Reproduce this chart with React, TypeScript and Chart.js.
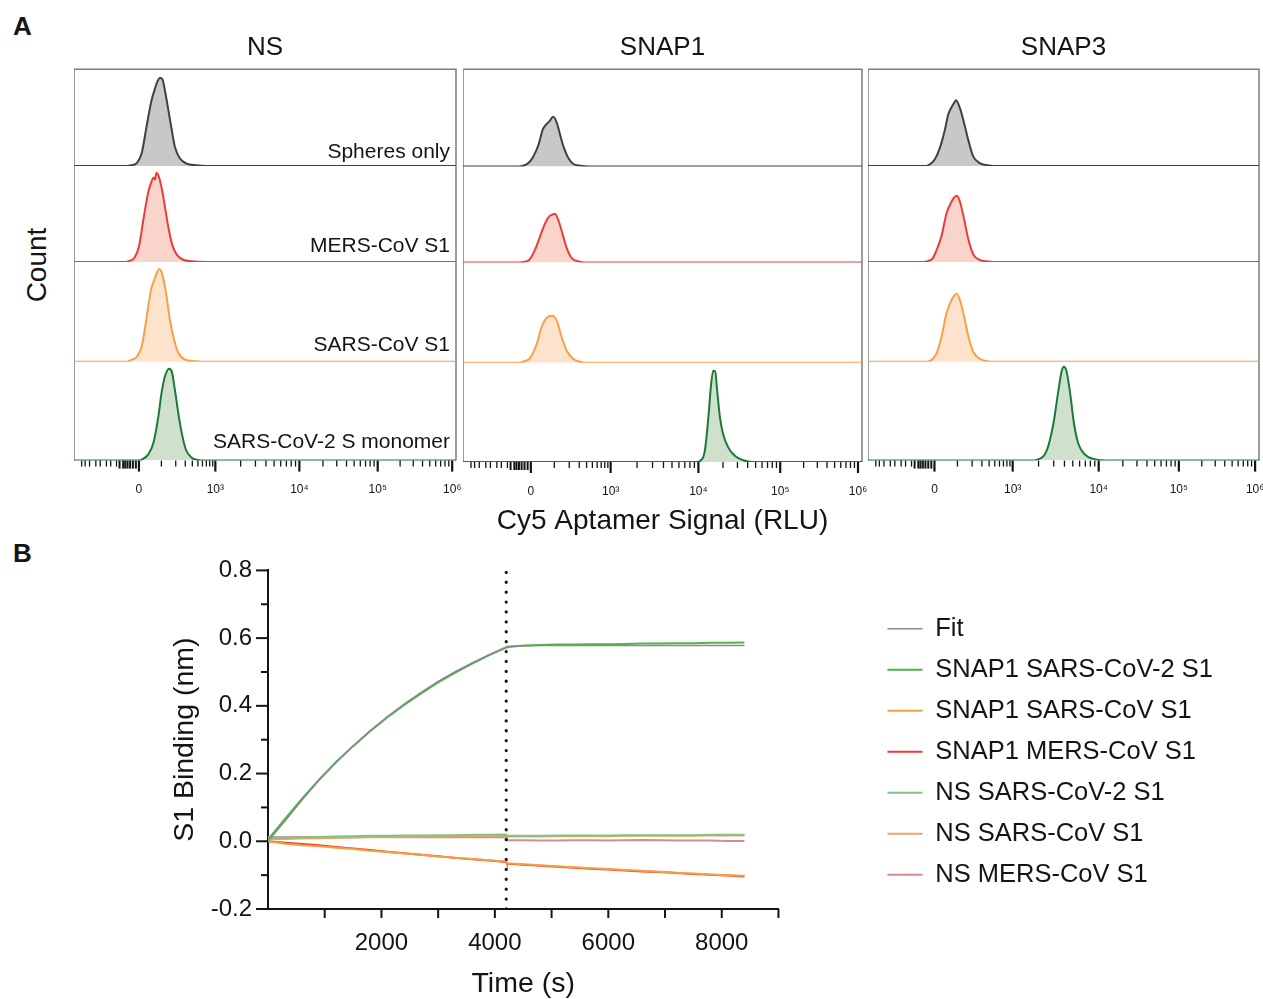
import React, { useEffect, useRef } from 'react';
import { Chart, registerables } from 'chart.js';

Chart.register(...registerables);

const FONT = "'Liberation Sans', Arial, Helvetica, sans-serif";
const INK = '#141414';

// ================= Panel A: flow cytometry histograms =================
const columnTitles = ['NS', 'SNAP1', 'SNAP3'];
const rowLabels = ['Spheres only', 'MERS-CoV S1', 'SARS-CoV S1', 'SARS-CoV-2 S monomer'];
const rowStroke = ['#404040', '#ec3b3a', '#f7a045', '#1b7a35'];
const rowFill = ['#c8c8c9', '#f9d4ca', '#fde3cc', '#cfe0cd'];
const rowWeights = [97, 96, 100, 99];
const xAxisTitleA = 'Cy5 Aptamer Signal (RLU)';
const countLabel = 'Count';

// [display channel (0-1000), count as % of row height]
const nsSpheres = [[0, 0], [140, 0], [150, 0.8], [164, 3], [177, 13], [190, 41], [203, 68], [212, 80], [218, 87], [225, 91], [231, 90], [238, 78], [247, 58], [256, 37], [264, 20], [277, 8], [295, 2.5], [320, 0.8], [345, 0], [1000, 0]];
const nsMers = [[0, 0], [135, 0], [145, 1], [158, 4], [170, 16], [182, 45], [194, 72], [203, 84], [208, 88], [212, 86], [216, 93], [222, 89], [230, 76], [239, 55], [248, 34], [257, 18], [270, 7], [288, 2], [315, 0.5], [340, 0], [1000, 0]];
const nsSars = [[0, 0], [140, 0], [147, 1.3], [164, 5], [177, 15], [188, 39], [197, 62], [203, 74], [212, 84], [223, 93], [229, 90], [241, 69], [251, 42], [262, 22], [273, 9], [291, 2], [315, 0.5], [335, 0], [1000, 0]];
const nsSars2 = [[0, 0], [170, 0], [177, 1], [194, 6], [208, 18], [221, 45], [229, 68], [238, 85], [249, 93], [256, 90], [264, 72], [273, 48], [282, 28], [293, 11], [308, 3], [325, 0.6], [340, 0], [1000, 0]];

const snap1Spheres = [[0, 0], [140, 0], [151, 0.7], [164, 3.4], [176, 10], [189, 22], [200, 38], [208, 43], [216, 46], [226, 51], [235, 45], [243, 33], [253, 19], [264, 8.6], [276, 2.7], [295, 0.8], [315, 0], [1000, 0]];
const snap1Mers = [[0, 0], [140, 0], [151, 0.7], [165, 2.5], [180, 13], [193, 27], [206, 41], [216, 48], [224, 50], [231, 50.5], [239, 44], [250, 29], [260, 15], [272, 5], [293, 1], [315, 0], [1000, 0]];
const snap1Sars = [[0, 0], [140, 0], [151, 1], [168, 5], [185, 19], [197, 36], [208, 44], [216, 46.5], [224, 47], [235, 42], [247, 26], [260, 12], [276, 4], [293, 1], [312, 0], [1000, 0]];
const snap1Sars2 = [[0, 0], [585, 0], [594, 1], [606, 11], [615, 45], [621, 75], [627, 92], [632, 91.5], [637, 72], [644, 45], [652, 28], [665, 14.5], [682, 6], [703, 1.7], [725, 0], [1000, 0]];

const snap3Spheres = [[0, 0], [143, 0], [154, 0.7], [171, 7], [184, 19], [197, 38], [205, 53], [214, 61], [220, 65], [225, 68], [235, 60], [246, 44], [257, 26], [269, 10], [286, 3], [305, 0.8], [322, 0], [1000, 0]];
const snap3Mers = [[0, 0], [143, 0], [154, 1], [166, 4], [176, 13], [188, 27], [201, 51], [214, 63], [220, 67], [227, 69], [235, 63], [246, 44], [257, 23], [269, 8], [286, 2], [305, 0.5], [322, 0], [1000, 0]];
const snap3Sars = [[0, 0], [145, 0], [159, 1], [176, 9], [188, 25], [201, 49], [214, 62], [227, 68], [235, 62], [246, 45], [257, 25], [269, 10], [286, 3], [305, 0.6], [322, 0], [1000, 0]];
const snap3Sars2 = [[0, 0], [420, 0], [431, 0.7], [457, 10], [474, 37], [487, 71], [495, 90], [501, 95], [508, 90], [517, 68], [527, 37], [538, 17], [555, 6], [577, 1.7], [600, 0.3], [615, 0], [1000, 0]];

const histograms = [
  [nsSpheres, nsMers, nsSars, nsSars2],
  [snap1Spheres, snap1Mers, snap1Sars, snap1Sars2],
  [snap3Spheres, snap3Mers, snap3Sars, snap3Sars2],
];

// biexponential axis
const majorTickValues = [0, 1e3, 1e4, 1e5, 1e6];
const majorTickLabels = ['0', '10³', '10⁴', '10⁵', '10⁶'];
const negativeMinorTicks = [-1000, -800, -600, -400, -300, -200, -150, -100, -80, -60, -50, -40, -30, -20, -10];
const linearMinorTicks = [100, 200, 300, 400, 500, 600, 700, 800, 900];
const decadeMultipliers = [2, 3, 4, 5, 6, 7, 8, 9];
const minorDecades = [1e3, 1e4, 1e5];
const decadeAnchors = [[3, 370], [4, 590], [5, 795], [6, 990]];

function biex(v: number): number {
  if (v >= 1000) {
    const l = Math.log10(v);
    for (let i = 0; i < decadeAnchors.length - 1; i++) {
      const [a, pa] = decadeAnchors[i];
      const [b, pb] = decadeAnchors[i + 1];
      if (l <= b) return pa + ((l - a) / (b - a)) * (pb - pa);
    }
    return decadeAnchors[decadeAnchors.length - 1][1];
  }
  if (v >= 0) return 170 + (200 * Math.asinh(v / 100)) / Math.asinh(10);
  return 170 - (150 * Math.asinh(-v / 50)) / Math.asinh(20);
}

const panelGeom = [
  { left: 74, right: 456 },
  { left: 463, right: 862 },
  { left: 868, right: 1259 },
];

function HistogramColumn({ col }: { col: number }) {
  const ref = useRef<HTMLCanvasElement>(null);
  const g = panelGeom[col];
  const withTitle = col === 1;
  const width = g.right - g.left + 6;
  const height = withTitle ? 506 : 465;
  useEffect(() => {
    const canvas = ref.current as HTMLCanvasElement;
    const rows = histograms[col];
    const datasets = rows.map((pts, i) => ({
      label: rowLabels[i],
      data: pts.map(([x, y]) => ({ x, y })),
      yAxisID: 'r' + i,
      borderColor: rowStroke[i],
      backgroundColor: rowFill[i],
      borderWidth: 2,
      fill: 'origin',
      pointRadius: 0,
      cubicInterpolationMode: 'monotone',
    }));
    const scales: any = {
      x: {
        type: 'linear',
        position: 'bottom',
        min: 0,
        max: 1000,
        grid: { display: false, drawTicks: true, tickLength: 22 },
        border: { display: false },
        afterBuildTicks: (s: any) => {
          s.ticks = majorTickValues.map((v) => ({ value: biex(v) }));
        },
        ticks: {
          autoSkip: false,
          maxRotation: 0,
          padding: 0,
          color: INK,
          font: { family: FONT, size: 12 },
          callback: (_v: any, i: number) => majorTickLabels[i],
        },
        title: withTitle
          ? { display: true, text: xAxisTitleA, color: INK, font: { family: FONT, size: 28 }, padding: { top: 6, bottom: 0 } }
          : { display: false },
      },
    };
    rows.forEach((_r, i) => {
      scales['r' + i] = {
        type: 'linear',
        position: 'right',
        stack: 'rows',
        stackWeight: rowWeights[i],
        min: 0,
        max: 100,
        display: true,
        grid: { display: false, drawTicks: false },
        border: { display: false },
        ticks: { display: false },
      };
    });
    const minorTicks = [
      ...negativeMinorTicks,
      ...linearMinorTicks,
      ...minorDecades.flatMap((d) => decadeMultipliers.map((m) => m * d)),
    ];
    const decor = {
      id: 'panelDecor' + col,
      beforeDatasetsDraw(chart: any) {
        const { ctx, chartArea: a } = chart;
        ctx.save();
        ctx.strokeStyle = '#7d7d7d';
        ctx.lineWidth = 1.5;
        ctx.beginPath();
        ctx.moveTo(a.left, a.bottom);
        ctx.lineTo(a.left, a.top);
        ctx.lineTo(a.right, a.top);
        ctx.lineTo(a.right, a.bottom);
        ctx.stroke();
        ctx.restore();
      },
      afterDraw(chart: any) {
        const { ctx, chartArea: a } = chart;
        const xs = chart.scales.x;
        ctx.save();
        ctx.strokeStyle = INK;
        minorTicks.forEach((v) => {
          const x = xs.getPixelForValue(biex(v));
          const near = Math.abs(v) < 100;
          ctx.lineWidth = near ? 2 : 1.3;
          ctx.beginPath();
          ctx.moveTo(x, a.bottom);
          ctx.lineTo(x, a.bottom + (near ? 8 : 6));
          ctx.stroke();
        });
        majorTickValues.forEach((v) => {
          const x = xs.getPixelForValue(biex(v));
          ctx.lineWidth = 2.2;
          ctx.beginPath();
          ctx.moveTo(x, a.bottom);
          ctx.lineTo(x, a.bottom + 11);
          ctx.stroke();
        });
        if (col === 0) {
          ctx.fillStyle = INK;
          ctx.font = `21px ${FONT}`;
          ctx.textAlign = 'right';
          ctx.textBaseline = 'alphabetic';
          rowLabels.forEach((t, i) => {
            const s = chart.scales['r' + i];
            ctx.fillText(t, a.right - 6, s.bottom - 8 - i * 1.5);
          });
        }
        ctx.restore();
      },
    };
    const chart = new Chart(canvas, {
      type: 'line',
      data: { datasets } as any,
      options: {
        responsive: false,
        animation: false,
        events: [],
        layout: { padding: { top: 0, right: 6, bottom: 0, left: 0 } },
        plugins: {
          legend: { display: false },
          tooltip: { enabled: false },
          title: {
            display: true,
            text: columnTitles[col],
            color: INK,
            font: { family: FONT, size: 26, weight: 'normal' },
            padding: { top: 0, bottom: 6 },
          },
        },
        scales,
      } as any,
      plugins: [decor],
    });
    return () => chart.destroy();
  }, [col]);
  return (
    <canvas
      ref={ref}
      width={width}
      height={height}
      style={{ position: 'absolute', left: g.left, top: 32, width, height }}
    />
  );
}

// ================= Panel B: binding kinetics =================
const timePoints = [0, 300, 600, 900, 1200, 1500, 1800, 2100, 2400, 2700, 3000, 3300, 3600, 3900, 4200, 4210, 4500, 4800, 5100, 5400, 5700, 6000, 6300, 6600, 6900, 7200, 7500, 7800, 8100, 8400];
const fitCurve = [0, 0.060, 0.122, 0.180, 0.233, 0.281, 0.326, 0.367, 0.405, 0.440, 0.472, 0.501, 0.527, 0.551, 0.574, 0.575, 0.577, 0.578, 0.578, 0.578, 0.578, 0.578, 0.578, 0.578, 0.578, 0.578, 0.578, 0.578, 0.578, 0.578];
const bindSnap1Cov2 = [0.005, 0.066, 0.126, 0.182, 0.234, 0.281, 0.325, 0.366, 0.403, 0.437, 0.469, 0.498, 0.525, 0.550, 0.572, 0.573, 0.578, 0.580, 0.581, 0.581, 0.582, 0.582, 0.583, 0.584, 0.584, 0.585, 0.585, 0.586, 0.586, 0.587];
const bindSnap1Cov = [0, -0.007, -0.012, -0.015, -0.019, -0.023, -0.028, -0.032, -0.036, -0.040, -0.045, -0.049, -0.052, -0.056, -0.060, -0.065, -0.068, -0.071, -0.074, -0.077, -0.080, -0.082, -0.085, -0.087, -0.090, -0.093, -0.095, -0.098, -0.100, -0.102];
const bindSnap1Mers = [0, -0.004, -0.008, -0.012, -0.017, -0.021, -0.026, -0.031, -0.035, -0.040, -0.044, -0.049, -0.053, -0.057, -0.061, -0.066, -0.069, -0.072, -0.075, -0.078, -0.081, -0.083, -0.086, -0.089, -0.091, -0.094, -0.097, -0.099, -0.101, -0.104];
const bindNsCov2 = [0.010, 0.011, 0.012, 0.013, 0.014, 0.015, 0.016, 0.016, 0.017, 0.017, 0.018, 0.018, 0.019, 0.019, 0.020, 0.016, 0.016, 0.016, 0.017, 0.017, 0.017, 0.017, 0.018, 0.018, 0.018, 0.018, 0.018, 0.019, 0.019, 0.019];
const bindNsCov = [0.006, 0.007, 0.008, 0.009, 0.010, 0.011, 0.012, 0.012, 0.013, 0.014, 0.014, 0.015, 0.015, 0.016, 0.016, 0.014, 0.014, 0.014, 0.015, 0.015, 0.015, 0.015, 0.016, 0.016, 0.016, 0.016, 0.016, 0.017, 0.017, 0.017];
const bindNsMers = [0.013, 0.012, 0.012, 0.012, 0.012, 0.012, 0.013, 0.013, 0.012, 0.012, 0.012, 0.012, 0.012, 0.012, 0.012, 0.003, 0.003, 0.002, 0.002, 0.003, 0.003, 0.002, 0.003, 0.004, 0.003, 0.002, 0.002, 0.002, 0.001, 0.001];

const bSeriesLabels = ['Fit', 'SNAP1 SARS-CoV-2 S1', 'SNAP1 SARS-CoV S1', 'SNAP1 MERS-CoV S1', 'NS SARS-CoV-2 S1', 'NS SARS-CoV S1', 'NS MERS-CoV S1'];
const bSeriesValues = [fitCurve, bindSnap1Cov2, bindSnap1Cov, bindSnap1Mers, bindNsCov2, bindNsCov, bindNsMers];
const bSeriesColors = ['#8a8a8a', '#4cb648', '#f6a03c', '#ee3a36', '#86c086', '#e4a866', '#d48c8c'];
const bSeriesWidths = [1.5, 2, 2, 2, 2, 2, 2];

const dissociationStart = 4200;
const yRange = [-0.2, 0.8];
const xRange = [0, 9000];
const xLabelValues = [2000, 4000, 6000, 8000];
const xTickValues = [1000, 2000, 3000, 4000, 5000, 6000, 7000, 8000, 9000];
const yMajorTicks = [-0.2, 0, 0.2, 0.4, 0.6, 0.8];
const yMinorTicks = [-0.1, 0.1, 0.3, 0.5, 0.7];

function KineticsChart() {
  const ref = useRef<HTMLCanvasElement>(null);
  useEffect(() => {
    const canvas = ref.current as HTMLCanvasElement;
    const datasets: any[] = bSeriesValues.map((vals, i) => ({
      label: bSeriesLabels[i],
      data: timePoints.map((t, j) => ({ x: t, y: vals[j] })),
      borderColor: bSeriesColors[i],
      backgroundColor: bSeriesColors[i],
      borderWidth: bSeriesWidths[i],
      pointRadius: 0,
      fill: false,
      tension: 0,
    }));
    datasets.push({
      label: 'Dissociation',
      data: [
        { x: dissociationStart, y: yRange[0] },
        { x: dissociationStart, y: yRange[1] },
      ],
      borderColor: '#111',
      borderWidth: 3.2,
      borderDash: [0.1, 9.8],
      borderCapStyle: 'round',
      pointRadius: 0,
      fill: false,
      order: -1,
    });
    const ticksPlugin = {
      id: 'bTicks',
      afterLayout(chart: any) {
        const lg = chart.legend;
        if (lg) {
          lg.top -= 6;
          lg.bottom -= 6;
        }
      },
      afterDraw(chart: any) {
        const { ctx, chartArea: a } = chart;
        const xs = chart.scales.x;
        const ys = chart.scales.y;
        ctx.save();
        ctx.strokeStyle = INK;
        ctx.lineWidth = 2;
        xTickValues.forEach((v) => {
          const x = xs.getPixelForValue(v);
          ctx.beginPath();
          ctx.moveTo(x, a.bottom);
          ctx.lineTo(x, a.bottom + 9);
          ctx.stroke();
        });
        yMajorTicks.forEach((v) => {
          const y = ys.getPixelForValue(v);
          ctx.beginPath();
          ctx.moveTo(a.left, y);
          ctx.lineTo(a.left - 12, y);
          ctx.stroke();
        });
        yMinorTicks.forEach((v) => {
          const y = ys.getPixelForValue(v);
          ctx.beginPath();
          ctx.moveTo(a.left, y);
          ctx.lineTo(a.left - 7, y);
          ctx.stroke();
        });
        ctx.restore();
      },
    };
    const chart = new Chart(canvas, {
      type: 'line',
      data: { datasets },
      options: {
        responsive: false,
        animation: false,
        events: [],
        layout: { padding: { top: 30, right: 40, bottom: 0, left: 0 } },
        plugins: {
          tooltip: { enabled: false },
          legend: {
            display: true,
            position: 'right',
            align: 'end',
            fullSize: false,
            maxWidth: 420,
            labels: {
              usePointStyle: true,
              pointStyle: 'line',
              pointStyleWidth: 35,
              padding: 15.5,
              color: INK,
              font: { family: FONT, size: 25.5 },
              filter: (item: any) => item.datasetIndex < bSeriesLabels.length,
            },
          },
        },
        scales: {
          x: {
            type: 'linear',
            min: xRange[0],
            max: xRange[1],
            grid: { display: false, drawTicks: false },
            border: { display: true, color: INK, width: 2 },
            ticks: {
              stepSize: 1000,
              autoSkip: false,
              maxRotation: 0,
              padding: 20,
              color: INK,
              font: { family: FONT, size: 24 },
              callback: (v: any) => (xLabelValues.includes(Math.round(v)) ? String(Math.round(v)) : ''),
            },
            title: { display: true, text: 'Time (s)', color: INK, font: { family: FONT, size: 28.5, lineHeight: 1.05 }, padding: { top: 0, bottom: 0 } },
            afterFit: (s: any) => {
              s.height = 90;
            },
          },
          y: {
            type: 'linear',
            position: 'left',
            min: yRange[0],
            max: yRange[1],
            grid: { display: false, drawTicks: false },
            border: { display: true, color: INK, width: 2 },
            ticks: {
              stepSize: 0.1,
              autoSkip: false,
              padding: 16,
              color: INK,
              font: { family: FONT, size: 24 },
              callback: (v: any) => {
                const k = Math.round(v * 10);
                return k % 2 === 0 ? (k / 10).toFixed(1) : '';
              },
            },
            title: { display: true, text: 'S1 Binding (nm)', color: INK, font: { family: FONT, size: 28.5 }, padding: { top: 8, bottom: 0 } },
            afterFit: (s: any) => {
              s.width = 108;
            },
          },
          gap: {
            type: 'linear',
            position: 'right',
            display: true,
            grid: { display: false, drawTicks: false },
            border: { display: false },
            ticks: { display: false },
            afterFit: (s: any) => {
              s.width = 93.5;
            },
          },
        },
      } as any,
      plugins: [ticksPlugin],
    });
    return () => chart.destroy();
  }, []);
  return (
    <canvas
      ref={ref}
      width={1103}
      height={459}
      style={{ position: 'absolute', left: 160, top: 540, width: 1103, height: 459 }}
    />
  );
}

export default function App() {
  return (
    <div
      style={{
        position: 'absolute',
        left: 0,
        top: 0,
        width: 1263,
        height: 999,
        overflow: 'hidden',
        background: '#fff',
        fontFamily: FONT,
        color: INK,
      }}
    >
      <div style={{ position: 'absolute', left: 13, top: 13, font: `bold 26px ${FONT}`, lineHeight: '26px' }}>A</div>
      <div style={{ position: 'absolute', left: 13, top: 540, font: `bold 26px ${FONT}`, lineHeight: '26px' }}>B</div>
      <div
        style={{
          position: 'absolute',
          left: 37,
          top: 265,
          transform: 'translate(-50%, -50%) rotate(-90deg)',
          font: `28px ${FONT}`,
          lineHeight: '32px',
          whiteSpace: 'nowrap',
        }}
      >
        {countLabel}
      </div>
      <HistogramColumn col={0} />
      <HistogramColumn col={1} />
      <HistogramColumn col={2} />
      <KineticsChart />
    </div>
  );
}
